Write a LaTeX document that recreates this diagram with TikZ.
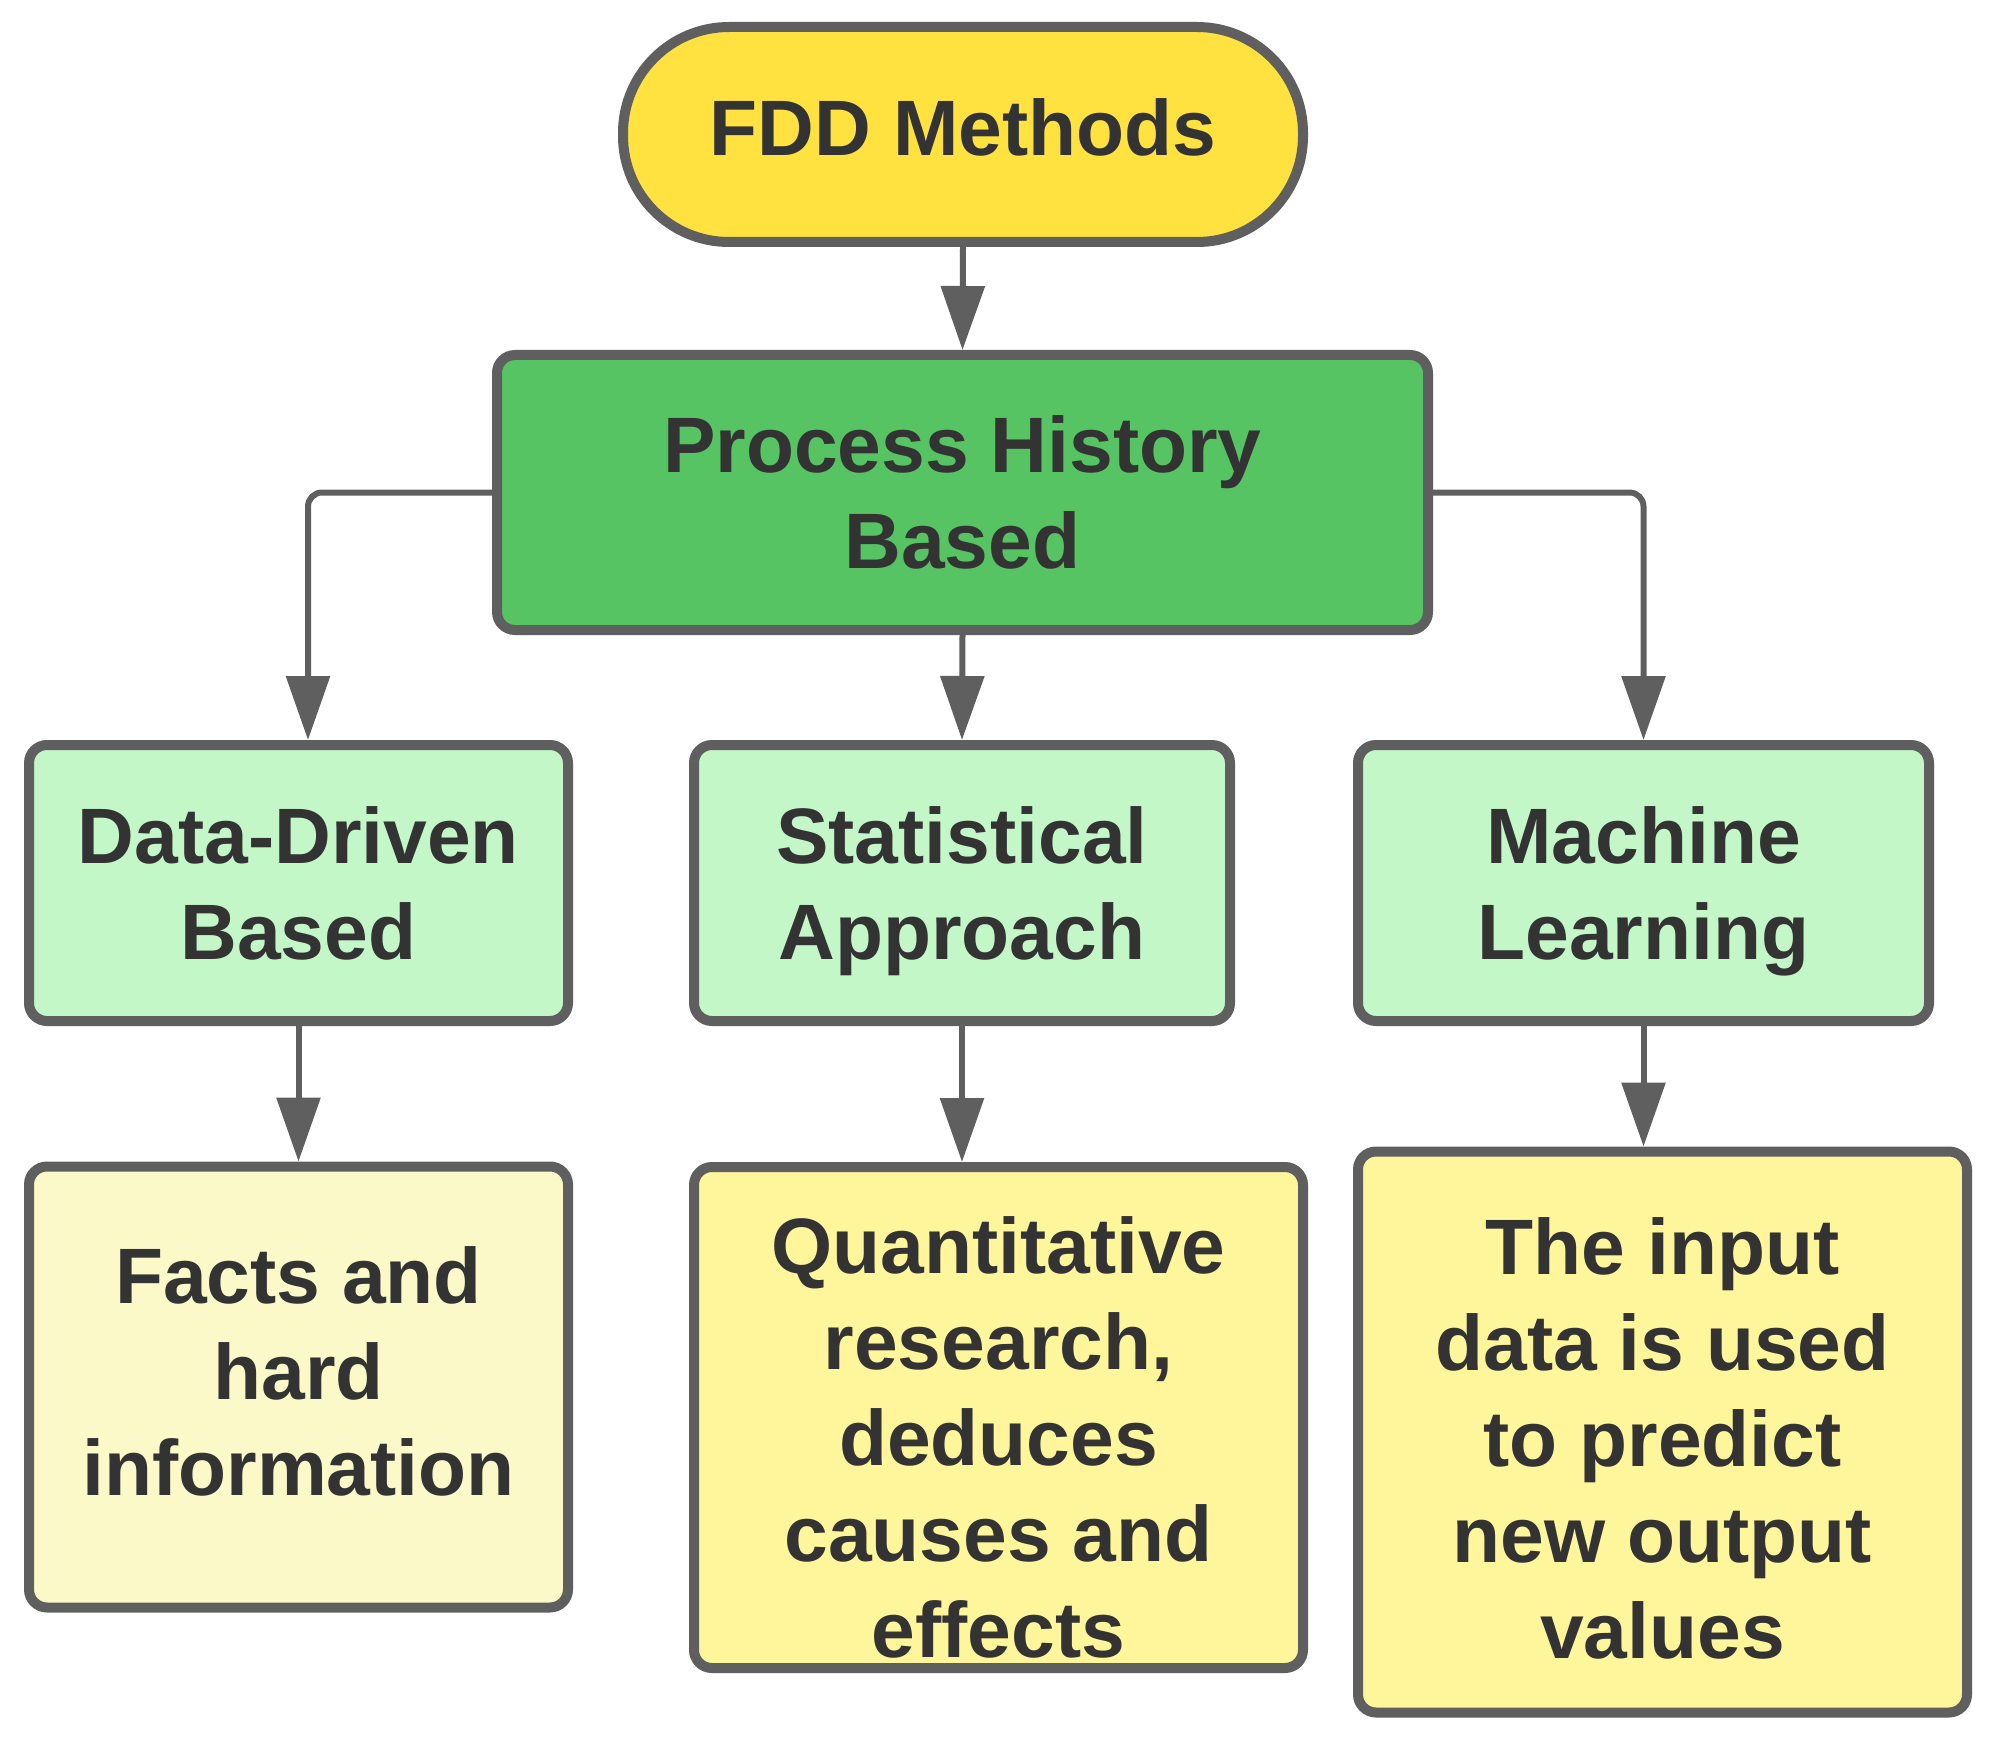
\documentclass[tikz,border=0pt]{standalone}
\usepackage{fontspec}
\setmainfont{Liberation Sans}
\usetikzlibrary{arrows.meta,calc}
\definecolor{lineC}{HTML}{5F5F5F}
\definecolor{txtC}{HTML}{333333}
\definecolor{topY}{HTML}{FFE23F}
\definecolor{greenM}{HTML}{56C462}
\definecolor{greenL}{HTML}{C3F7C8}
\definecolor{yelPale}{HTML}{FBF9C8}
\definecolor{yelMid}{HTML}{FFF59A}
\begin{document}
\begin{tikzpicture}[x=0.5pt,y=-0.5pt,
  box/.style={draw=lineC, line width=5pt, rounded corners=9pt, align=center,
    text=txtC, font=\bfseries\fontsize{39.3}{48}\selectfont, inner sep=0pt,
    text depth=0pt},
  conn/.style={draw=lineC, line width=3pt, rounded corners=7pt,
    -{Triangle[length=32pt,width=21.5pt]}}]
\fill[white] (0,0) rectangle (2004,1739);
\useasboundingbox (0,0) rectangle (2004,1739);

\node[box, fill=topY, rounded corners=53pt, minimum width=340pt, minimum height=107.5pt, text depth=7.5pt] (top) at (963,134.5) {FDD Methods};
\node[box, fill=greenM, minimum width=465.5pt, minimum height=137.5pt] (phb) at (962.5,492.5) {Process History\\Based};
\node[box, fill=greenL, minimum width=269.5pt, minimum height=138pt] (dd) at (298.5,883) {Data-Driven\\Based};
\node[box, fill=greenL, minimum width=268pt, minimum height=138pt] (st) at (962,883) {Statistical\\Approach};
\node[box, fill=greenL, minimum width=285.5pt, minimum height=138pt] (ml) at (1643.5,883) {Machine\\Learning};
\node[box, fill=yelPale, minimum width=269.5pt, minimum height=220.5pt, text depth=16pt] (facts) at (298.5,1387) {Facts and\\hard\\information};
\node[box, fill=yelMid, minimum width=304.5pt, minimum height=250.5pt] (quant) at (998.5,1417.5) {\rule{0pt}{48pt}Quantitative\\research,\\deduces\\causes and\\effects};
\node[box, fill=yelMid, minimum width=304.5pt, minimum height=280.5pt] (inp) at (1662.5,1432) {\rule{0pt}{34pt}The input\\data is used\\to predict\\new output\\values};

\draw[conn] (top.south) -- (phb.north);
\draw[conn] (phb.west) -| ([xshift=4.75pt]dd.north);
\draw[conn] (phb.south) -- (st.north);
\draw[conn] (phb.east) -| (ml.north);
\draw[conn] (dd.south) -- (facts.north);
\draw[conn] (st.south) -- (st.south |- quant.north);
\draw[conn] (ml.south) -- (ml.south |- inp.north);
\end{tikzpicture}
\end{document}
